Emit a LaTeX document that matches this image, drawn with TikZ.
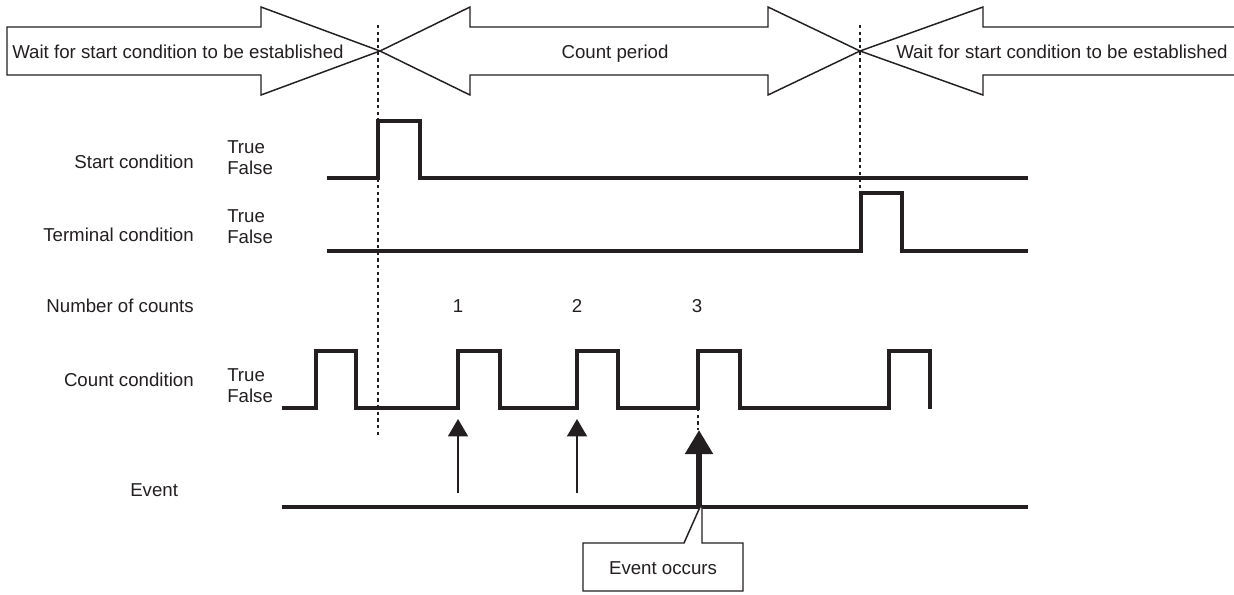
\documentclass[tikz,border=0pt]{standalone}
\usepackage{fontspec}
\setmainfont{Liberation Sans}
\usetikzlibrary{arrows.meta}
\definecolor{ink}{HTML}{231F20}
\begin{document}
\begin{tikzpicture}[x=0.75pt,y=-0.75pt,
  txt/.style={text=ink,font=\fontsize{14pt}{16pt}\selectfont,inner sep=0pt},
  blockarrow/.style={draw=ink,line width=1.1pt,line join=miter},
  wave/.style={draw=ink,line width=2.3pt,line join=miter},
  guide/.style={draw=ink,line width=1.2pt,dash pattern=on 2.6pt off 2.4pt},
  thinarrow/.style={draw=ink,line width=1pt,-{Triangle[width=15pt,length=13pt]}},
  thickarrow/.style={draw=ink,line width=4.5pt,-{Triangle[width=20pt,length=18pt]}},
  callout/.style={draw=ink,line width=1.1pt,fill=white,line join=miter}]
\useasboundingbox (0,0) rectangle (1234,594);

% phase arrows along the top
\draw[blockarrow] (7,27) -- (261,27) -- (261,7) -- (380,51) -- (261,95) -- (261,75) -- (7,75) -- cycle;
\draw[blockarrow] (380,51) -- (470,7) -- (470,27) -- (768,27) -- (768,7) -- (860,51)
  -- (768,95) -- (768,75) -- (470,75) -- (470,95) -- cycle;
\draw[blockarrow] (1236,27) -- (983,27) -- (983,7) -- (860,51) -- (983,95) -- (983,75) -- (1236,75);
\node[txt,anchor=base west] (waitA) at (12,58) {Wait for start condition to be established};
\node[txt,anchor=base] (period) at (615,58) {Count period};
\node[txt,anchor=base west] (waitB) at (896,58) {Wait for start condition to be established};

% boundaries of the count period
\draw[guide] (378,25) -- (378,437);
\draw[guide] (860,25) -- (860,193);

% signal names and levels
\node[txt,anchor=base east] (lstart) at (194,168) {Start condition};
\node[txt,anchor=base west] (tstart) at (227,153) {True};
\node[txt,anchor=base west] (fstart) at (227,174) {False};
\node[txt,anchor=base east] (lterm) at (194,241) {Terminal condition};
\node[txt,anchor=base west] (tterm) at (227,222) {True};
\node[txt,anchor=base west] (fterm) at (227,243) {False};
\node[txt,anchor=base east] (lnum) at (194,312) {Number of counts};
\node[txt,anchor=base east] (lcount) at (194,386) {Count condition};
\node[txt,anchor=base west] (tcount) at (227,381) {True};
\node[txt,anchor=base west] (fcount) at (227,402) {False};
\node[txt,anchor=base west] (levent) at (130,496) {Event};

% count numbers
\node[txt,anchor=base] (n1) at (458,312) {1};
\node[txt,anchor=base] (n2) at (577,312) {2};
\node[txt,anchor=base] (n3) at (697,312) {3};

% waveforms
\draw[wave] (327,178) -- (378,178) -- (378,121) -- (420,121) -- (420,178) -- (1028,178);
\draw[wave] (327,251) -- (861,251) -- (861,193) -- (902,193) -- (902,251) -- (1028,251);
\draw[wave] (282,408) -- (316,408) -- (316,351) -- (356,351) -- (356,408)
  -- (458,408) -- (458,351) -- (500,351) -- (500,408)
  -- (577,408) -- (577,351) -- (618,351) -- (618,408)
  -- (698,408) -- (698,351) -- (740,351) -- (740,408)
  -- (889,408) -- (889,351) -- (930,351) -- (930,409.1);
\draw[wave] (282,507) -- (1028,507);

% count events
\coordinate (b1) at (458,493);
\coordinate (h1) at (458,419);
\coordinate (b2) at (577,493);
\coordinate (h2) at (577,419);
\coordinate (b3) at (699,507);
\coordinate (h3) at (699,430);
\coordinate (e3) at (698,408);
\draw[thinarrow] (b1) -- (h1);
\draw[thinarrow] (b2) -- (h2);
\draw[thickarrow] (b3) -- (h3);
\draw[guide] (e3) -- (698,430);

% callout
\draw[callout] (583,543) -- (684,543) -- (700,507) -- (702,507) -- (702,543) -- (743,543)
  -- (743,591) -- (583,591) -- cycle;
\node[txt,anchor=base] (occurs) at (663,574) {Event occurs};
\end{tikzpicture}
\end{document}
